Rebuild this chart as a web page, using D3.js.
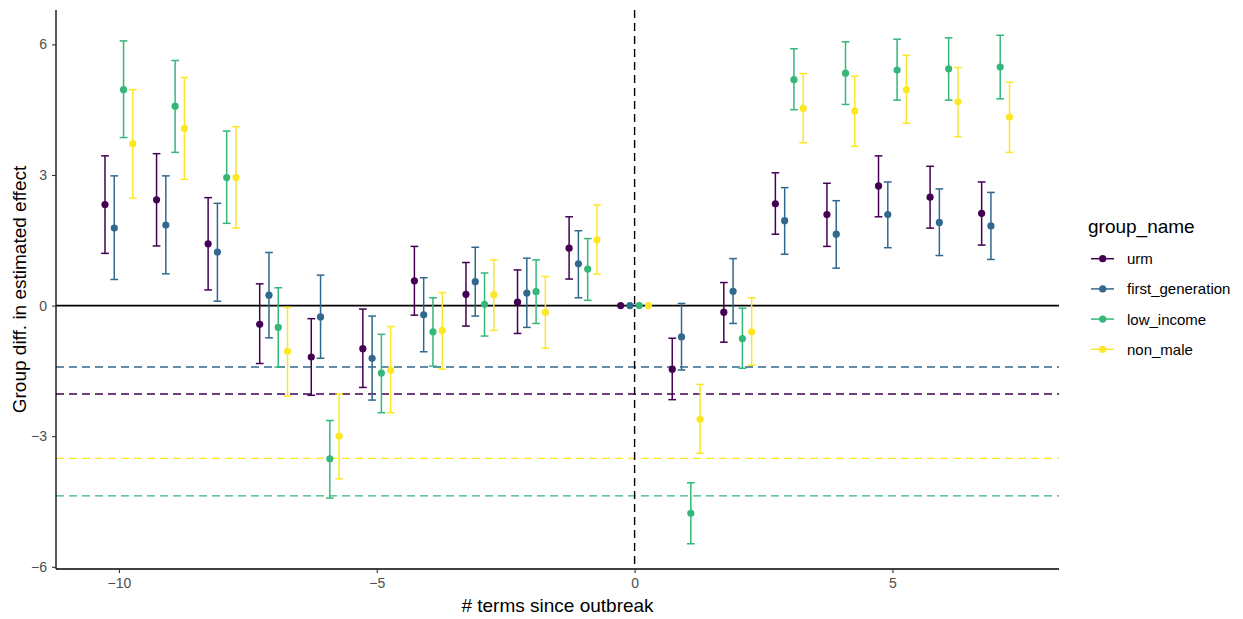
<!DOCTYPE html>
<html>
<head>
<meta charset="utf-8">
<script src="https://cdn.jsdelivr.net/npm/d3@7"></script>
<style>
  html, body { margin: 0; padding: 0; background: #fff; }
  svg { display: block; font-family: "Liberation Sans", Arial, sans-serif; }
</style>
</head>
<body>
<svg id="chart" width="1243" height="619"></svg>
<script>
// Event-study estimates by group: terms relative to outbreak
const terms = [-10, -9, -8, -7, -6, -5, -4, -3, -2, -1, 0, 1, 2, 3, 4, 5, 6, 7];
const groups = ["urm", "first_generation", "low_income", "non_male"];
const colors = ["#440154", "#31688E", "#35B779", "#FDE725"];

const urmEst   = [2.32, 2.43, 1.42, -0.43, -1.18, -0.99, 0.57, 0.26, 0.08, 1.32, 0, -1.46, -0.15, 2.34, 2.09, 2.75, 2.49, 2.12];
const urmLow   = [1.20, 1.37, 0.36, -1.33, -2.06, -1.88, -0.22, -0.47, -0.64, 0.61, 0, -2.16, -0.84, 1.64, 1.36, 2.04, 1.78, 1.39];
const urmHigh  = [3.44, 3.49, 2.48, 0.50, -0.30, -0.08, 1.36, 0.99, 0.82, 2.04, 0, -0.75, 0.53, 3.05, 2.81, 3.44, 3.20, 2.84];

const fgEst    = [1.78, 1.85, 1.23, 0.24, -0.26, -1.21, -0.21, 0.55, 0.29, 0.96, 0, -0.72, 0.33, 1.95, 1.64, 2.09, 1.91, 1.83];
const fgLow    = [0.60, 0.73, 0.10, -0.74, -1.21, -2.17, -1.06, -0.24, -0.50, 0.18, 0, -1.48, -0.41, 1.18, 0.86, 1.33, 1.15, 1.06];
const fgHigh   = [2.98, 2.98, 2.35, 1.22, 0.70, -0.24, 0.64, 1.34, 1.09, 1.72, 0, 0.05, 1.08, 2.71, 2.41, 2.84, 2.68, 2.60];

const liEst    = [4.96, 4.58, 2.94, -0.50, -3.52, -1.55, -0.60, 0.03, 0.32, 0.84, 0, -4.77, -0.76, 5.19, 5.34, 5.41, 5.44, 5.48];
const liLow    = [3.86, 3.52, 1.89, -1.41, -4.42, -2.46, -1.39, -0.70, -0.41, 0.12, 0, -5.47, -1.44, 4.50, 4.62, 4.72, 4.72, 4.75];
const liHigh   = [6.08, 5.63, 4.01, 0.41, -2.64, -0.66, 0.18, 0.75, 1.05, 1.54, 0, -4.07, -0.06, 5.90, 6.06, 6.12, 6.15, 6.21];

const nmEst    = [3.72, 4.07, 2.94, -1.05, -3.00, -1.48, -0.57, 0.25, -0.15, 1.51, 0, -2.61, -0.60, 4.53, 4.47, 4.96, 4.68, 4.33];
const nmLow    = [2.47, 2.90, 1.78, -2.08, -3.98, -2.46, -1.46, -0.57, -0.98, 0.72, 0, -3.39, -1.37, 3.74, 3.66, 4.19, 3.88, 3.52];
const nmHigh   = [4.96, 5.24, 4.11, -0.04, -2.03, -0.48, 0.30, 1.05, 0.67, 2.31, 0, -1.81, 0.18, 5.33, 5.27, 5.75, 5.47, 5.13];

// Group-level reference values shown as dashed lines
const refValues = [-2.03, -1.41, -4.37, -3.51];

const xTicks = [-10, -5, 0, 5];
const yTicks = [-6, -3, 0, 3, 6];

const seriesEst  = [urmEst, fgEst, liEst, nmEst];
const seriesLow  = [urmLow, fgLow, liLow, nmLow];
const seriesHigh = [urmHigh, fgHigh, liHigh, nmHigh];

// Assemble long-format rows
const rows = [];
groups.forEach((g, gi) => {
  terms.forEach((t, ti) => {
    rows.push({ group: g, gi, term: t, est: seriesEst[gi][ti], lo: seriesLow[gi][ti], hi: seriesHigh[gi][ti] });
  });
});

const svg = d3.select("#chart");
const panel = { left: 56, right: 1059, top: 10, bottom: 569 };

const x = d3.scaleLinear().domain([-11.22, 8.23]).range([panel.left, panel.right]);
const y = d3.scaleLinear().domain([-6.05, 6.79]).range([panel.bottom, panel.top]);
const color = d3.scaleOrdinal().domain(groups).range(colors);
// dodge offsets within each term
const dodge = d3.scalePoint().domain(groups).range([-0.27, 0.27]);
const capHalf = 0.075;

const g = svg.append("g");

// reference dashed lines per group
g.selectAll("line.ref")
  .data(groups.map((gr, i) => ({ group: gr, v: refValues[i] })))
  .join("line")
  .attr("class", "ref")
  .attr("x1", panel.left).attr("x2", panel.right)
  .attr("y1", d => y(d.v)).attr("y2", d => y(d.v))
  .attr("stroke", d => color(d.group))
  .attr("stroke-width", 1.4)
  .attr("stroke-dasharray", "8,5");

// zero line
g.append("line")
  .attr("x1", panel.left).attr("x2", panel.right)
  .attr("y1", y(0)).attr("y2", y(0))
  .attr("stroke", "#000").attr("stroke-width", 1.6);

// outbreak marker
g.append("line")
  .attr("x1", x(0)).attr("x2", x(0))
  .attr("y1", panel.top).attr("y2", panel.bottom)
  .attr("stroke", "#000").attr("stroke-width", 1.4)
  .attr("stroke-dasharray", "8,5");

// error bars
const eb = g.selectAll("g.eb")
  .data(rows.filter(d => d.hi !== d.lo))
  .join("g")
  .attr("class", "eb")
  .attr("stroke", d => color(d.group))
  .attr("stroke-width", 1.5);

eb.append("line")
  .attr("x1", d => x(d.term + dodge(d.group))).attr("x2", d => x(d.term + dodge(d.group)))
  .attr("y1", d => y(d.lo)).attr("y2", d => y(d.hi));
eb.append("line")
  .attr("x1", d => x(d.term + dodge(d.group) - capHalf)).attr("x2", d => x(d.term + dodge(d.group) + capHalf))
  .attr("y1", d => y(d.hi)).attr("y2", d => y(d.hi));
eb.append("line")
  .attr("x1", d => x(d.term + dodge(d.group) - capHalf)).attr("x2", d => x(d.term + dodge(d.group) + capHalf))
  .attr("y1", d => y(d.lo)).attr("y2", d => y(d.lo));

// point estimates
g.selectAll("circle.pt")
  .data(rows)
  .join("circle")
  .attr("class", "pt")
  .attr("cx", d => x(d.term + dodge(d.group)))
  .attr("cy", d => y(d.est))
  .attr("r", 3.6)
  .attr("fill", d => color(d.group));

// axes
const xAxis = svg.append("g")
  .attr("transform", `translate(0,${panel.bottom})`)
  .call(d3.axisBottom(x).tickValues(xTicks).tickSize(4).tickPadding(5).tickFormat(d3.format("d")));
const yAxis = svg.append("g")
  .attr("transform", `translate(${panel.left},0)`)
  .call(d3.axisLeft(y).tickValues(yTicks).tickSize(4).tickPadding(5).tickFormat(d3.format("d")));

[xAxis, yAxis].forEach(ax => {
  ax.select(".domain").attr("stroke", "#000").attr("stroke-width", 1.3);
  ax.selectAll(".tick line").attr("stroke", "#333").attr("stroke-width", 1.1);
  ax.selectAll(".tick text")
    .attr("fill", "#4d4d4d")
    .style("font-family", "'Liberation Sans', Arial, sans-serif")
    .style("font-size", "14px");
});
xAxis.select(".domain").attr("d", `M${panel.left},0H${panel.right}`);
yAxis.select(".domain").attr("d", `M0,${panel.bottom}V${panel.top}`);

// axis titles
svg.append("text")
  .attr("x", (panel.left + panel.right) / 2)
  .attr("y", 612)
  .attr("text-anchor", "middle")
  .style("font-size", "19px")
  .attr("fill", "#000")
  .text("# terms since outbreak");

svg.append("text")
  .attr("transform", `translate(26,${(panel.top + panel.bottom) / 2}) rotate(-90)`)
  .attr("text-anchor", "middle")
  .style("font-size", "19px")
  .attr("fill", "#000")
  .text("Group diff. in estimated effect");

// legend
const legend = svg.append("g").attr("transform", "translate(1088,0)");
legend.append("text")
  .attr("x", 0).attr("y", 233)
  .style("font-size", "19px")
  .attr("fill", "#000")
  .text("group_name");

const item = legend.selectAll("g.item")
  .data(groups)
  .join("g")
  .attr("class", "item")
  .attr("transform", (d, i) => `translate(0,${258.7 + i * 30.2})`);
item.append("line")
  .attr("x1", 3).attr("x2", 26).attr("y1", 0).attr("y2", 0)
  .attr("stroke", d => color(d)).attr("stroke-width", 1.5);
item.append("circle")
  .attr("cx", 14.7).attr("cy", 0).attr("r", 3.6)
  .attr("fill", d => color(d));
item.append("text")
  .attr("x", 39).attr("y", 5.5)
  .style("font-size", "15px")
  .attr("fill", "#000")
  .text(d => d);
</script>
</body>
</html>
